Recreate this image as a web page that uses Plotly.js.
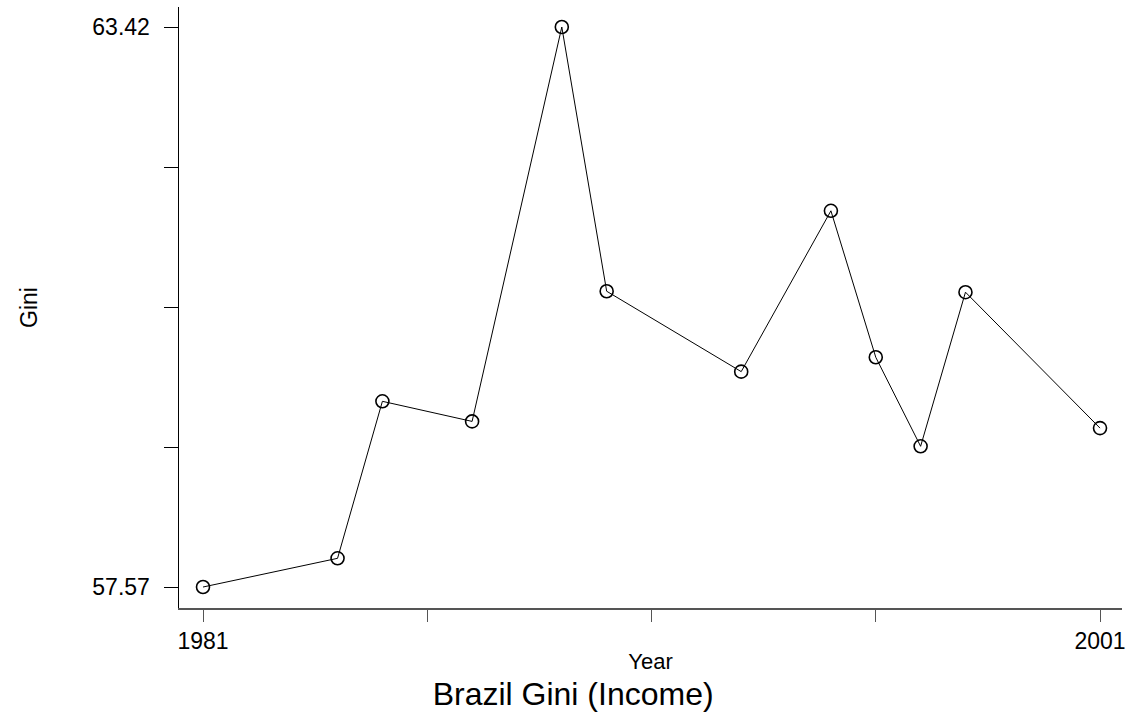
<!DOCTYPE html>
<html>
<head>
<meta charset="utf-8">
<script src="https://cdn.plot.ly/plotly-3.0.1.min.js"></script>
<style>html,body{margin:0;padding:0;background:#fff;}#chart{width:1126px;height:713px;}</style>
</head>
<body>
<div id="chart"></div>
<script>
const years = [1981, 1984, 1985, 1987, 1989, 1990, 1993, 1995, 1996, 1997, 1998, 2001];
const gini = [57.57, 57.87, 59.51, 59.30, 63.42, 60.66, 59.82, 61.50, 59.97, 59.04, 60.65, 59.23];
const xTickVals = [1981, 1986, 1991, 1996, 2001];
const xTickText = ['1981', '', '', '', '2001'];
const yTickVals = [57.57, 59.0325, 60.495, 61.9575, 63.42];
const yTickText = ['57.57', '', '', '', '63.42'];

const trace = {
  x: years, y: gini, type: 'scatter', mode: 'lines+markers',
  line: {color: '#000', width: 1},
  marker: {symbol: 'circle-open', size: 13, color: '#000', line: {width: 1.6, color: '#000'}},
  hoverinfo: 'x+y'
};
const layout = {
  width: 1126, height: 713,
  paper_bgcolor: '#fff', plot_bgcolor: '#fff',
  margin: {l: 179, r: 4, t: 7, b: 105},
  showlegend: false,
  font: {family: 'Liberation Sans, Arial, sans-serif', color: '#000'},
  title: {text: 'Brazil Gini (Income)', font: {size: 32}, xref: 'container', yref: 'container', x: 0.509, xanchor: 'center', y: 0.027, yanchor: 'middle'},
  xaxis: {
    range: [1980.465, 2001.49], tickvals: xTickVals, ticktext: xTickText,
    showgrid: false, zeroline: false, showline: true, linecolor: '#555', linewidth: 1.5,
    ticks: 'outside', ticklen: 12, tickcolor: '#555', tickwidth: 1,
    tickfont: {size: 23},
    title: {text: 'Year', font: {size: 22}, standoff: 0}
  },
  yaxis: {
    range: [57.351, 63.629], tickvals: yTickVals, ticktext: yTickText,
    showgrid: false, zeroline: false, showline: true, linecolor: '#000', linewidth: 1.5,
    ticks: 'outside', ticklen: 14, tickcolor: '#000', tickwidth: 1,
    ticklabelstandoff: 9,
    tickfont: {size: 23},
    title: {text: 'Gini', font: {size: 23}, standoff: 48}
  }
};
Plotly.newPlot('chart', [trace], layout, {displayModeBar: false, staticPlot: true});
</script>
</body>
</html>
